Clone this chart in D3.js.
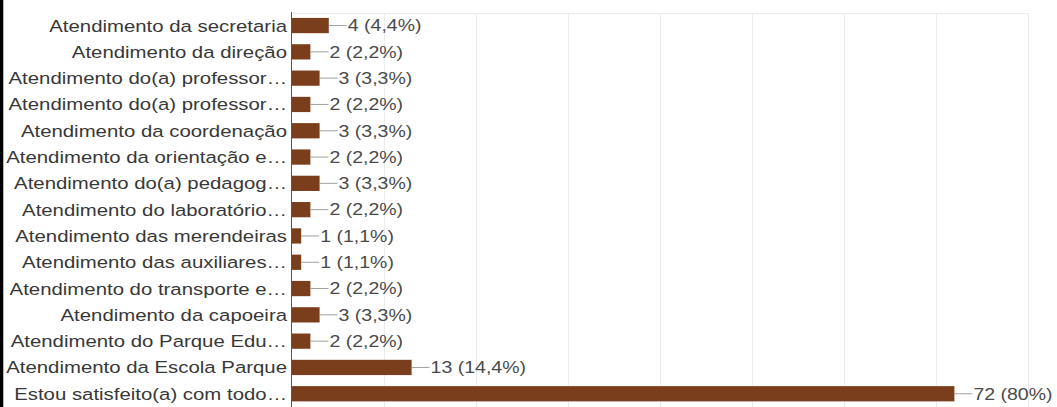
<!DOCTYPE html>
<html>
<head>
<meta charset="utf-8">
<script src="https://cdn.jsdelivr.net/npm/d3@7"></script>
<style>
  html, body { margin: 0; padding: 0; background: #fff; }
  svg { display: block; }
  text { font-family: "Liberation Sans", Arial, sans-serif; }
</style>
</head>
<body>
<svg id="chart" width="1057" height="407"></svg>
<script>
// Answer options (as shown, truncated where long)
const categories = [
  "Atendimento da secretaria",
  "Atendimento da direção",
  "Atendimento do(a) professor…",
  "Atendimento do(a) professor…",
  "Atendimento da coordenação",
  "Atendimento da orientação e…",
  "Atendimento do(a) pedagog…",
  "Atendimento do laboratório…",
  "Atendimento das merendeiras",
  "Atendimento das auxiliares…",
  "Atendimento do transporte e…",
  "Atendimento da capoeira",
  "Atendimento do Parque Edu…",
  "Atendimento da Escola Parque",
  "Estou satisfeito(a) com todo…"
];
// Response counts
const counts = [4, 2, 3, 2, 3, 2, 3, 2, 1, 1, 2, 3, 2, 13, 72];
// Share of respondents, as printed next to each bar
const percents = ["4,4%", "2,2%", "3,3%", "2,2%", "3,3%", "2,2%", "3,3%", "2,2%", "1,1%", "1,1%", "2,2%", "3,3%", "2,2%", "14,4%", "80%"];
// Value-axis gridline positions
const gridTicks = [10, 20, 30, 40, 50, 60, 70, 80];

const data = categories.map((c, i) => ({ key: i, label: c, value: counts[i], pct: percents[i] }));

const svg = d3.select("#chart");
const W = 1057, H = 407;
const barColor = "#7a3e1c";

const x = d3.scaleLinear().domain([0, 80]).range([292, 1028]);
const y = d3.scaleBand()
  .domain(data.map(d => d.key))
  .range([12.4, 406.9])
  .paddingInner(0.42)
  .paddingOuter(0.21);

// Left frame edge
svg.append("rect").attr("x", 0).attr("y", 0).attr("width", 3.3).attr("height", H).attr("fill", "#000");

// Top rule
svg.append("line")
  .attr("x1", x(0)).attr("x2", x(80))
  .attr("y1", 13.5).attr("y2", 13.5)
  .attr("stroke", "#ececec").attr("stroke-width", 1);

// Vertical gridlines
svg.append("g")
  .selectAll("line")
  .data(gridTicks)
  .join("line")
  .attr("x1", d => Math.round(x(d)) + 0.5)
  .attr("x2", d => Math.round(x(d)) + 0.5)
  .attr("y1", 13).attr("y2", H)
  .attr("stroke", "#ececec").attr("stroke-width", 1);

// Bars
svg.append("g")
  .selectAll("rect")
  .data(data)
  .join("rect")
  .attr("x", x(0))
  .attr("y", d => y(d.key))
  .attr("width", d => x(d.value) - x(0))
  .attr("height", y.bandwidth())
  .attr("fill", barColor);

// Baseline axis
svg.append("line")
  .attr("x1", x(0) - 0.5).attr("x2", x(0) - 0.5)
  .attr("y1", 12).attr("y2", H)
  .attr("stroke", "#555").attr("stroke-width", 1);

// Category labels
svg.append("g")
  .selectAll("text")
  .data(data)
  .join("text")
  .attr("transform", d => `translate(${x(0) - 5},${y(d.key) + y.bandwidth() / 2}) scale(1.235,1)`)
  .attr("text-anchor", "end")
  .attr("dy", "0.36em")
  .attr("font-size", 16.5)
  .attr("fill", "#383838")
  .text(d => d.label);

// Leader lines and value labels
const lead = 18;
svg.append("g")
  .selectAll("line")
  .data(data)
  .join("line")
  .attr("x1", d => x(d.value))
  .attr("x2", d => x(d.value) + lead)
  .attr("y1", d => y(d.key) + y.bandwidth() / 2)
  .attr("y2", d => y(d.key) + y.bandwidth() / 2)
  .attr("stroke", "#a0a0a0").attr("stroke-width", 1);

svg.append("g")
  .selectAll("text")
  .data(data)
  .join("text")
  .attr("transform", d => `translate(${x(d.value) + lead + 1},${y(d.key) + y.bandwidth() / 2}) scale(1.22,1)`)
  .attr("text-anchor", "start")
  .attr("dy", "0.36em")
  .attr("font-size", 16)
  .attr("fill", "#4a4a4a")
  .text(d => `${d.value} (${d.pct})`);
</script>
</body>
</html>
